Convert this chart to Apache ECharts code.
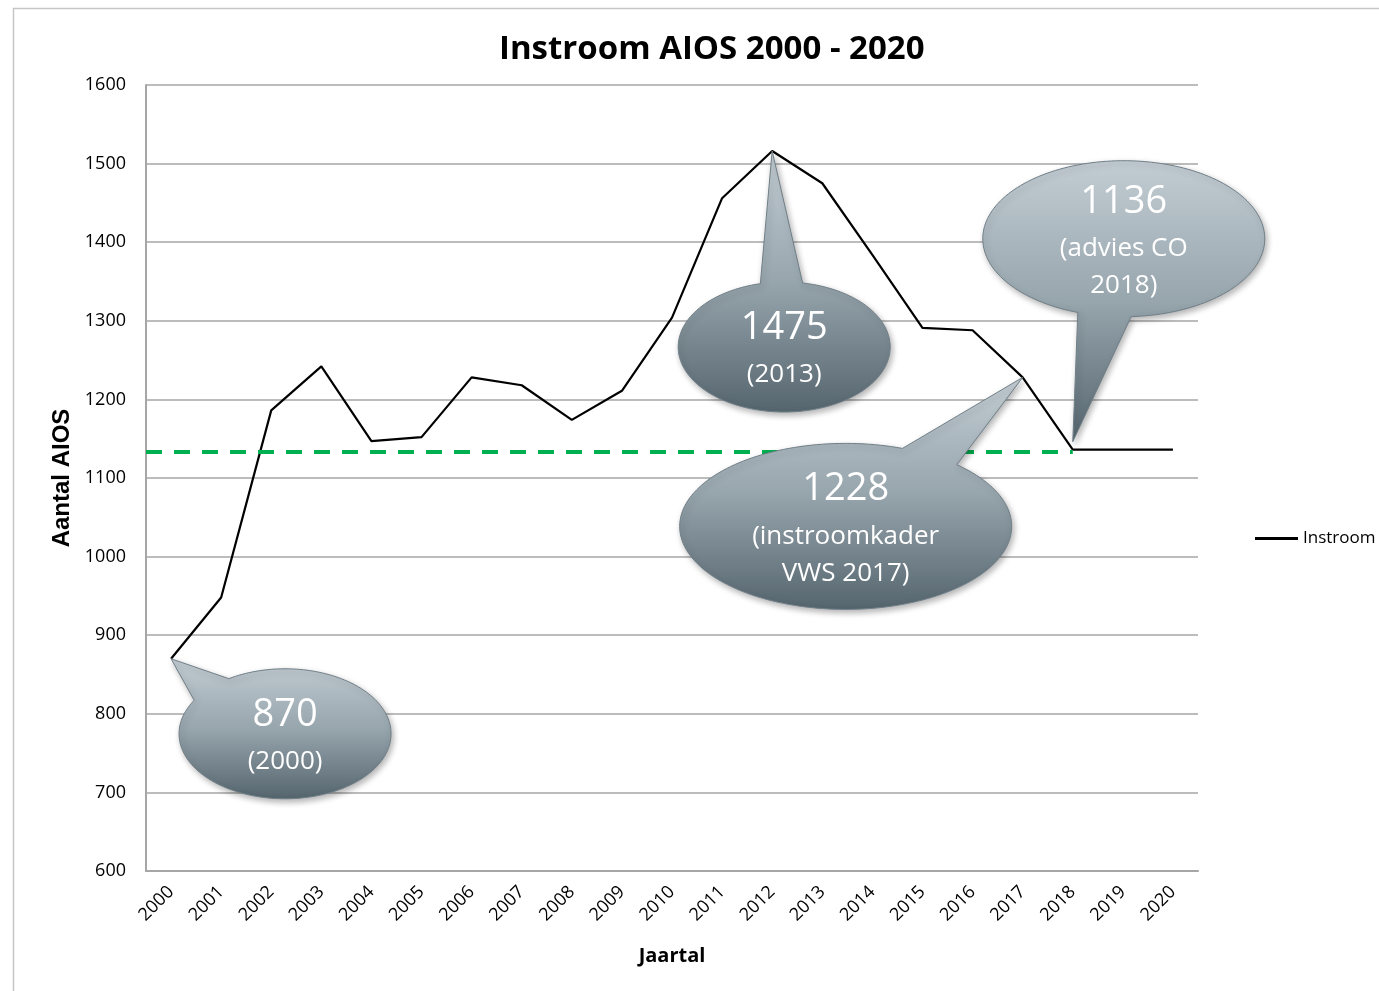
<!DOCTYPE html>
<html>
<head>
<meta charset="utf-8">
<title>Instroom AIOS 2000 - 2020</title>
<script src="https://cdn.jsdelivr.net/npm/echarts@6/dist/echarts.min.js"></script>
<style>
  html, body { margin: 0; padding: 0; background: #fff; }
  #main { width: 1379px; height: 991px; }
</style>
</head>
<body>
<div id="main"></div>
<script>
// data
const years = ['2000', '2001', '2002', '2003', '2004', '2005', '2006', '2007', '2008', '2009', '2010',
  '2011', '2012', '2013', '2014', '2015', '2016', '2017', '2018', '2019', '2020']
const instroom = [870, 948, 1186, 1242, 1147, 1152, 1228, 1218, 1174, 1211, 1304,
  1456, 1516, 1475, 1384, 1291, 1288, 1228, 1136, 1136, 1136]
const yTicks = [600, 700, 800, 900, 1000, 1100, 1200, 1300, 1400, 1500, 1600]
const adviesLevel = 1134
const adviesEnd = '2018'

// callouts: which point they point at and their text
const calloutYears = ['2000', '2012', '2017', '2018']
const calloutTexts = [
  ['870', '(2000)'],
  ['1475', '(2013)'],
  ['1228', '(instroomkader', 'VWS 2017)'],
  ['1136', '(advies CO', '2018)']
]

// callout layout (pixel offsets from the pointed point)
const calloutLayout = [
  { tip: [0, 0], dx: 114, dy: 75, rx: 106, ry: 65, a1: 211, a2: 238, lineY: [-19, 28] },
  { tip: [0, 0], dx: 12, dy: 196, rx: 106, ry: 65, a1: 257, a2: 280, lineY: [-19, 28] },
  { tip: [0, 0], dx: -177, dy: 149, rx: 166, ry: 83, a1: 290, a2: 312, lineY: [-37, 10, 47] },
  { tip: [0, -8], dx: 51, dy: -211, rx: 141, ry: 78, a1: 87, a2: 109, lineY: [-37, 10, 47] }
]

const axisFont = 'Open Sans'
let chart = echarts.init(document.getElementById('main'))

chart.setOption({
  animation: false,
  title: {
    text: 'Instroom AIOS 2000 - 2020',
    left: 494,
    top: 28,
    textStyle: { fontFamily: 'Open Sans', fontWeight: 'bold', fontSize: 33, color: '#000' }
  },
  legend: {
    left: 1250,
    top: 525,
    icon: 'rect',
    itemWidth: 43,
    itemHeight: 3,
    itemGap: 5,
    data: ['Instroom'],
    textStyle: { fontFamily: axisFont, fontSize: 17, color: '#000' }
  },
  grid: { left: 146, right: 181, top: 85, bottom: 120 },
  xAxis: {
    type: 'category',
    data: years,
    boundaryGap: true,
    name: 'Jaartal',
    nameLocation: 'middle',
    nameGap: 75,
    nameTextStyle: { fontFamily: 'Open Sans', fontWeight: 'bold', fontSize: 20, color: '#000' },
    axisLine: { lineStyle: { color: '#a6a6a6', width: 2 } },
    axisTick: { show: false },
    axisLabel: { rotate: 45, margin: 18, fontFamily: axisFont, fontSize: 18, color: '#000', interval: 0 }
  },
  yAxis: {
    type: 'value',
    min: yTicks[0],
    max: yTicks[yTicks.length - 1],
    interval: yTicks[1] - yTicks[0],
    name: 'Aantal AIOS',
    nameLocation: 'middle',
    nameGap: 72,
    nameRotate: 90,
    nameTextStyle: { fontFamily: 'Liberation Sans', fontWeight: 'bold', fontSize: 24, color: '#000' },
    axisLine: { show: true, lineStyle: { color: '#a6a6a6', width: 2 } },
    axisTick: { show: false },
    axisLabel: {
      margin: 20, fontFamily: axisFont, fontSize: 18, color: '#000',
      formatter: function (v) { return String(v) }
    },
    splitLine: { lineStyle: { color: '#a6a6a6', width: 1.5 } }
  },
  series: [{
    name: 'Instroom',
    type: 'line',
    data: instroom,
    showSymbol: false,
    symbol: 'none',
    lineStyle: { color: '#000', width: 2.2 },
    itemStyle: { color: '#000' },
    z: 3
  }]
})

// dashed advice line: from the left edge of the grid to the 2018 point
const p0 = chart.convertToPixel({ seriesIndex: 0 }, [0, adviesLevel])
const p1 = chart.convertToPixel({ seriesIndex: 0 }, [1, adviesLevel])
const startX = p0[0] - (p1[0] - p0[0]) / 2

chart.setOption({
  series: [{
    name: 'Instroom',
    markLine: {
      silent: true,
      symbol: 'none',
      label: { show: false },
      lineStyle: { color: '#00b050', type: [16, 12], width: 4 },
      data: [[
        { x: startX, y: p0[1] },
        { coord: [adviesEnd, adviesLevel] }
      ]]
    }
  }]
})

// callouts drawn on top, anchored at the data points
const graphics = [{
  type: 'rect',
  shape: { x: 13.5, y: 8.5, width: 1400, height: 1000 },
  style: { fill: 'none', stroke: '#c6c6c6', lineWidth: 1.5 },
  silent: true
}]

calloutYears.forEach(function (yr, i) {
  const idx = years.indexOf(yr)
  const p = chart.convertToPixel({ seriesIndex: 0 }, [idx, instroom[idx]])
  const L = calloutLayout[i]
  const tip = [p[0] + L.tip[0], p[1] + L.tip[1]]
  const c = [p[0] + L.dx, p[1] + L.dy]
  const pts = [tip]
  const rad = Math.PI / 180
  for (let a = L.a2; a < L.a1 + 360; a += 2) {
    pts.push([c[0] + L.rx * Math.cos(a * rad), c[1] + L.ry * Math.sin(a * rad)])
  }
  pts.push([c[0] + L.rx * Math.cos(L.a1 * rad), c[1] + L.ry * Math.sin(L.a1 * rad)])
  graphics.push({
    type: 'polygon',
    z: 10,
    shape: { points: pts },
    style: {
      fill: new echarts.graphic.LinearGradient(0, 0, 0, 1, [
        { offset: 0, color: '#c3cdd3' },
        { offset: 0.5, color: '#97a5ad' },
        { offset: 1, color: '#55656e' }
      ]),
      stroke: '#6f7e87',
      lineWidth: 1,
      shadowBlur: 6,
      shadowOffsetX: 2,
      shadowOffsetY: 3,
      shadowColor: 'rgba(0,0,0,0.3)'
    }
  })
  calloutTexts[i].forEach(function (t, j) {
    const big = j === 0
    graphics.push({
      type: 'text',
      z: 11,
      x: c[0],
      y: c[1] + L.lineY[j],
      style: {
        text: t,
        fill: '#fff',
        font: (big ? '38px' : '26px') + ' "Open Sans"',
        textAlign: 'center',
        textVerticalAlign: 'middle',
        align: 'center',
        verticalAlign: 'middle'
      }
    })
  })
})

chart.setOption({ graphic: graphics })
</script>
</body>
</html>
